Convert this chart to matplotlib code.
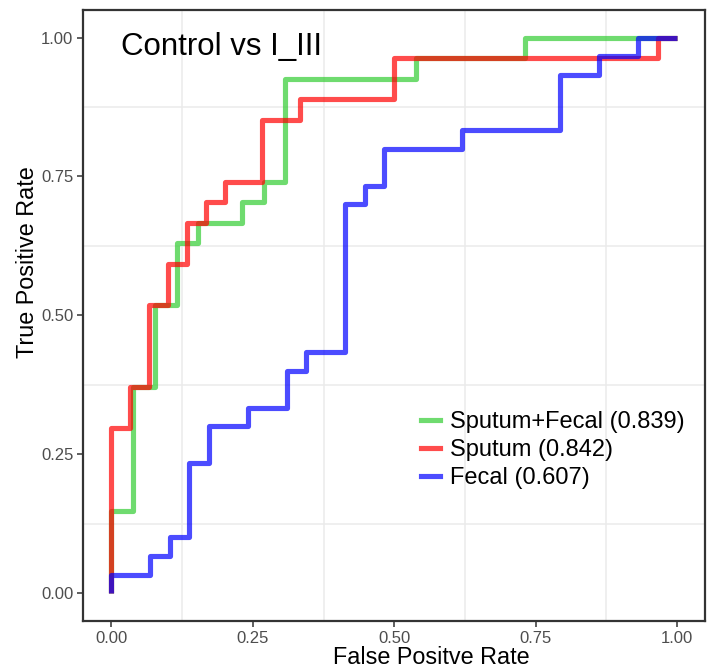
import matplotlib
matplotlib.use("Agg")
import matplotlib.pyplot as plt
from matplotlib.lines import Line2D

plt.rcParams['font.family'] = ['Liberation Sans', 'DejaVu Sans']

# ---- data ----
fpr_combo = [0.0, 0.0, 0.0385, 0.0385, 0.0769, 0.0769, 0.1154, 0.1154, 0.1538, 0.1538,
             0.2308, 0.2308, 0.2692, 0.2692, 0.3077, 0.3077, 0.5385, 0.5385, 0.7308, 0.7308, 1.0]
tpr_combo = [0.0, 0.1481, 0.1481, 0.3704, 0.3704, 0.5185, 0.5185, 0.6296, 0.6296, 0.6667,
             0.6667, 0.7037, 0.7037, 0.7407, 0.7407, 0.9259, 0.9259, 0.9630, 0.9630, 1.0, 1.0]

fpr_sputum = [0.0, 0.0, 0.0333, 0.0333, 0.0667, 0.0667, 0.1, 0.1, 0.1333, 0.1333, 0.1667, 0.1667,
              0.2, 0.2, 0.2667, 0.2667, 0.3333, 0.3333, 0.5, 0.5, 0.9667, 0.9667, 1.0]
tpr_sputum = [0.0, 0.2963, 0.2963, 0.3704, 0.3704, 0.5185, 0.5185, 0.5926, 0.5926, 0.6667, 0.6667, 0.7037,
              0.7037, 0.7407, 0.7407, 0.8519, 0.8519, 0.8889, 0.8889, 0.9630, 0.9630, 1.0, 1.0]

fpr_fecal = [0.0, 0.0, 0.0690, 0.0690, 0.1034, 0.1034, 0.1379, 0.1379, 0.1724, 0.1724, 0.2414, 0.2414,
             0.3103, 0.3103, 0.3448, 0.3448, 0.4138, 0.4138, 0.4483, 0.4483, 0.4828, 0.4828,
             0.6207, 0.6207, 0.7931, 0.7931, 0.8621, 0.8621, 0.9310, 0.9310, 1.0]
tpr_fecal = [0.0, 0.0333, 0.0333, 0.0667, 0.0667, 0.1, 0.1, 0.2333, 0.2333, 0.3, 0.3, 0.3333,
             0.3333, 0.4, 0.4, 0.4333, 0.4333, 0.7, 0.7, 0.7333, 0.7333, 0.8,
             0.8, 0.8333, 0.8333, 0.9333, 0.9333, 0.9667, 0.9667, 1.0, 1.0]

series_names = ["Sputum+Fecal (0.839)", "Sputum (0.842)", "Fecal (0.607)"]
series_colors = ["#32cd32", "#ff0000", "#0000ff"]
title_text = "Control vs I_III"
ticks = [0.0, 0.25, 0.5, 0.75, 1.0]
tick_labels = ["0.00", "0.25", "0.50", "0.75", "1.00"]
grid_pos = [0.125, 0.375, 0.625, 0.875]

W, H = 709, 672
fig = plt.figure(figsize=(W / 100, H / 100), dpi=100)
ax = fig.add_axes([83.2 / W, 1 - 620.8 / H, 622 / W, 611 / H])

series = [(fpr_combo, tpr_combo), (fpr_sputum, tpr_sputum), (fpr_fecal, tpr_fecal)]
for (xs, ys), c in zip(series, series_colors):
    ax.plot(xs, ys, color=c, alpha=0.7, lw=3.7, solid_joinstyle='round',
            solid_capstyle='butt', zorder=3)

ax.set_xlim(-0.05, 1.05)
ax.set_ylim(-0.05, 1.05)
ax.set_xticks(ticks)
ax.set_xticklabels(tick_labels)
ax.set_yticks(ticks)
ax.set_yticklabels(tick_labels)
for g in grid_pos:
    ax.axvline(g, color="#ebebeb", lw=1.1, zorder=1)
    ax.axhline(g, color="#ebebeb", lw=1.1, zorder=1)

for s in ax.spines.values():
    s.set_color("#333333")
    s.set_linewidth(1.6)
ax.tick_params(axis='both', colors="#333333", length=4, width=1.1,
               labelsize=12, labelcolor="#4d4d4d", pad=3)

ax.text(0.017, 0.983, title_text, fontsize=22.5, ha='left', va='center', color='black')

handles = [Line2D([0], [0], color=c, alpha=0.7, lw=3.7) for c in series_colors]
leg = ax.legend(handles, series_names, loc='center left',
                bbox_to_anchor=((421 - 83.2) / 622, 1 - (450 - 9.7) / 611),
                frameon=False, fontsize=17, handlelength=0.8, handletextpad=0.42,
                labelspacing=0.24, borderaxespad=0, borderpad=0)

fig.text(431 / W, 1 - 657 / H, "False Positve Rate", fontsize=16.8, ha='center', va='center')
fig.text(27 / W, 1 - 262 / H, "True Positive Rate", fontsize=16.8, ha='center', va='center',
         rotation=90)

fig.savefig("out.png", dpi=100)
